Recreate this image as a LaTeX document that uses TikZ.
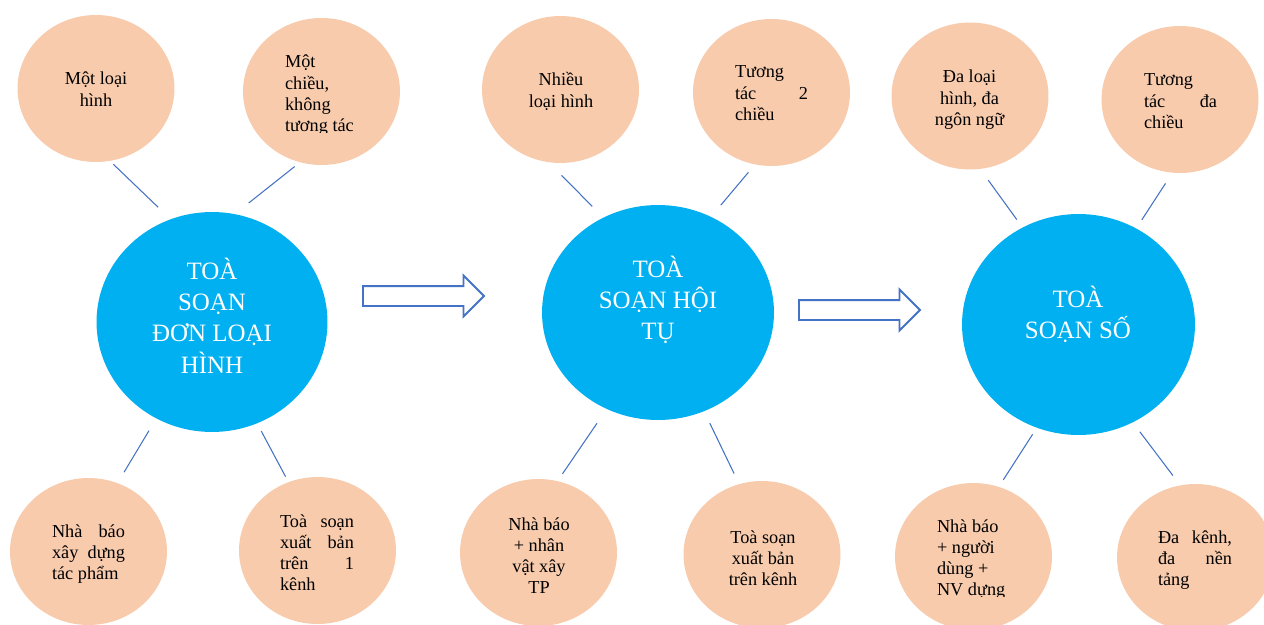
\documentclass[tikz,border=0pt]{standalone}
\usepackage{fontspec}
\setmainfont{Liberation Serif}
\usetikzlibrary{shapes.geometric, shapes.arrows}
\definecolor{hubBlue}{HTML}{00B0F0}
\definecolor{satPeach}{HTML}{F8CBAD}
\definecolor{linkBlue}{HTML}{4472C4}
\tikzset{
  hub/.style       = {ellipse, fill=hubBlue, draw=none, inner sep=0pt},
  sat/.style       = {ellipse, fill=satPeach, draw=none, inner sep=0pt,
                      minimum width=3.14cm, minimum height=2.94cm},
  sattext/.style   = {anchor=base, inner sep=0pt,
                      font=\fontsize{10.4pt}{12.1pt}\selectfont},
  hubtext/.style   = {anchor=base, inner sep=0pt, text=white,
                      font=\fontsize{14.2pt}{17.9pt}\selectfont},
  link/.style      = {draw=linkBlue, line width=0.6pt},
  flowarrow/.style = {single arrow, draw=linkBlue, fill=white, line width=1.1pt,
                      inner xsep=0pt, inner ysep=0.18cm, minimum height=2.42cm,
                      single arrow head extend=0.21cm, anchor=tail}
}

\begin{document}
\begin{tikzpicture}[x=0.02cm, y=-0.02cm]
  \fill[white] (0,0) rectangle (1264,625);
  \useasboundingbox (0,0) rectangle (1264,625);
  % satellites round each newsroom
  \foreach \n/\x/\y in {a1/96/88.5, a2/321.5/91.5, a3/88.5/551.5, a4/317.5/550.5,
                        b1/560.5/89.5, b2/771.5/92.5, b3/538.5/552.5, b4/762/554.5,
                        c1/970/96, c2/1180/99.5, c3/973.5/556.5, c4/1195.5/557.5}{
    \node[sat] (\n) at (\x,\y) {};
  }
  % the three newsrooms
  \node[hub, minimum width=4.62cm, minimum height=4.40cm] (hubA) at (212,322) {};
  \node[hub, minimum width=4.64cm, minimum height=4.30cm] (hubB) at (658,312.5) {};
  \node[hub, minimum width=4.66cm, minimum height=4.42cm] (hubC) at (1078.5,324.5) {};
  % short links, satellite -> newsroom
  \foreach \s/\h/\a/\b/\p/\q in {
      a1/hubA/-79.2/112.9/0.09/0.34,
      a2/hubA/-107.6/78.9/0.13/0.35,
      a3/hubA/67.8/-120.6/0.25/0.28,
      a4/hubA/113.5/-66.1/0.12/0.17,
      b1/hubB/-99.4/120.4/0.36/0.31,
      b2/hubB/-103.3/61.5/0.20/0.30,
      b3/hubB/75.4/-118.0/0.17/0.34,
      b4/hubB/108.1/-65.4/0.23/0.26,
      c1/hubC/-82.2/120.0/0.27/0.19,
      c2/hubC/-96.4/59.3/0.25/0.20,
      c3/hubC/70.2/-112.4/0.16/0.15,
      c4/hubC/102.6/-61.9/0.24/0.23}{
    \draw[link, shorten <=\p cm, shorten >=\q cm] (\s.\a) -- (\h.\b);
  }
  % block arrows between stages
  \node[flowarrow] (stepAB) at (362,296) {};
  \node[flowarrow] (stepBC) at (798,310) {};
  % newsroom titles
  \node[hubtext] (hubAt) at (212,279)
       {\parbox[t]{4cm}{\centering TOÀ\\SOẠN\\ĐƠN LOẠI\\HÌNH}};
  \node[hubtext] (hubBt) at (658,277)
       {\parbox[t]{4cm}{\centering TOÀ\\SOẠN HỘI\\TỤ}};
  \node[hubtext] (hubCt) at (1078,307)
       {\parbox[t]{4cm}{\centering TOÀ\\SOẠN SỐ}};
  % satellite texts
  \node[sattext] (a1t) at (96,85) {\parbox[t]{3cm}{\centering Một loại\\hình}};
  \begin{scope}
    \clip (250,0) rectangle (420,132);
    \node[sattext] (a2t) at (321,68)
         {\parbox[t]{1.44cm}{\raggedright Một\\chiều,\\không\\tương tác}};
  \end{scope}
  \node[sattext] (a3t) at (88.5,537)
       {\parbox[t]{1.46cm}{Nhà \hfill báo\\xây \hfill dựng\\tác phẩm}};
  \node[sattext] (a4t) at (317,527)
       {\parbox[t]{1.48cm}{Toà \hfill soạn\\xuất \hfill bản\\trên \hfill 1\\kênh}};
  \node[sattext] (b1t) at (561,86) {\parbox[t]{3cm}{\centering Nhiều\\loại hình}};
  \node[sattext] (b2t) at (771.5,78)
       {\parbox[t]{1.46cm}{Tương\\tác \hfill 2\\chiều}};
  \node[sattext] (b3t) at (539,530)
       {\parbox[t]{3cm}{\centering Nhà báo\\+ nhân\\vật xây\\TP}};
  \node[sattext] (b4t) at (763,543)
       {\parbox[t]{3cm}{\centering Toà soạn\\xuất bản\\trên kênh}};
  \node[sattext] (c1t) at (969.5,83)
       {\parbox[t]{3cm}{\centering Đa loại\\hình, đa\\ngôn ngữ}};
  \node[sattext] (c2t) at (1180.5,86)
       {\parbox[t]{1.46cm}{Tương\\tác \hfill đa\\chiều}};
  \begin{scope}
    \clip (900,480) rectangle (1060,596);
    \node[sattext] (c3t) at (973,532)
         {\parbox[t]{1.44cm}{\raggedright Nhà báo\\+ người\\dùng +\\NV dựng}};
  \end{scope}
  \node[sattext] (c4t) at (1195,543)
       {\parbox[t]{1.48cm}{Đa \hfill kênh,\\đa \hfill nền\\tảng}};
\end{tikzpicture}
\end{document}
